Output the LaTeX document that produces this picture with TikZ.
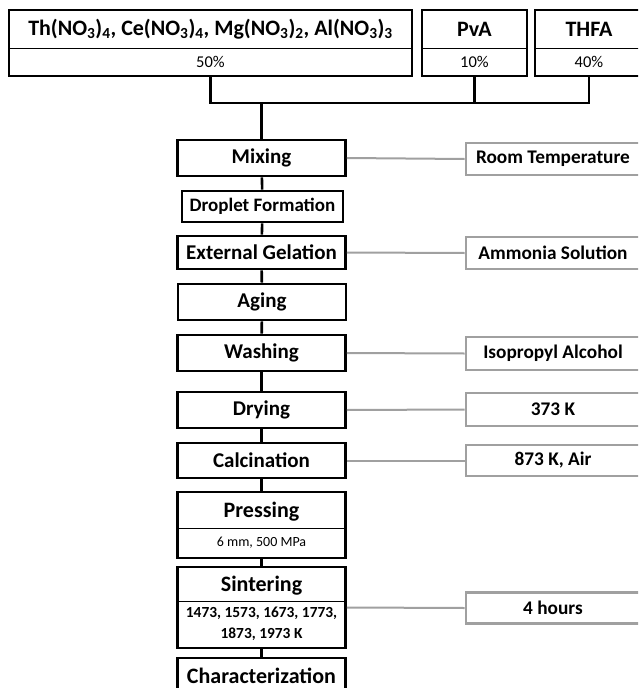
\documentclass[tikz,border=0pt]{standalone}
\usepackage{fontspec}
\setmainfont{Carlito}
\usepackage{tikz}
\definecolor{linegray}{RGB}{160,160,160}
\tikzset{>=latex}
\tikzset{
  stepbox/.style={draw=black, line width=2.6, minimum width=168, minimum height=36, inner sep=0, font=\bfseries\fontsize{21}{23}\selectfont},
  condbox/.style={draw=linegray, line width=2.6, minimum width=174, minimum height=32, inner sep=0, font=\bfseries\fontsize{19.3}{21}\selectfont},
  headtext/.style={inner sep=0, font=\bfseries\fontsize{22}{24}\selectfont},
  subtext/.style={inner sep=0, font=\fontsize{16.5}{18}\selectfont},
  flow/.style={draw=black, line width=2.6},
  side/.style={draw=linegray, line width=2},
  divider/.style={draw=black, line width=0.8}
}

\begin{document}
\begin{tikzpicture}[x=1pt, y=-1pt]

\useasboundingbox (0,0) rectangle (638,688);
\clip (0,0) rectangle (638,688);

% starting materials
\node[stepbox, minimum width=403, minimum height=66] (salts) at (210.5,43) {};
\node[headtext] (saltsname) at (210.5,29) {Th(NO\textsubscript{3})\textsubscript{4}, Ce(NO\textsubscript{3})\textsubscript{4}, Mg(NO\textsubscript{3})\textsubscript{2}, Al(NO\textsubscript{3})\textsubscript{3}};
\node[subtext] (saltsshare) at (210.5,62) {50\%};
\draw[divider] (9,48) -- (412,48);

\node[stepbox, minimum width=105, minimum height=66] (pva) at (474.5,43) {};
\node[headtext] (pvaname) at (474.5,29) {PvA};
\node[subtext] (pvashare) at (474.5,62) {10\%};
\draw[divider] (422,48) -- (527,48);

\node[stepbox, minimum width=108, minimum height=66] (thfa) at (589,43) {};
\node[headtext] (thfaname) at (589,29) {THFA};
\node[subtext] (thfashare) at (589,62) {40\%};
\draw[divider] (535,48) -- (643,48);

\coordinate (join) at (261.5,103);

% process steps
\node[stepbox] (mixing) at (261.5,158) {Mixing};
\node[stepbox, minimum width=161, minimum height=31, font=\bfseries\fontsize{19}{21}\selectfont] (droplet) at (262.5,206.5) {Droplet Formation};
\node[stepbox, minimum height=33] (gelation) at (261.5,252.5) {External Gelation};
\node[stepbox] (aging) at (262,302) {Aging};
\node[stepbox] (washing) at (261.5,353) {Washing};
\node[stepbox] (drying) at (261.5,410) {Drying};
\node[stepbox, minimum height=35] (calcination) at (261.5,460.5) {Calcination};

\node[stepbox, minimum height=66] (pressing) at (261.5,525) {};
\node[headtext] (pressingname) at (261.5,512) {Pressing};
\node[subtext, font=\fontsize{14}{16}\selectfont] (pressingcond) at (261.5,543) {6 mm, 500 MPa};
\draw[divider] (177.5,528) -- (345.5,528);

\node[stepbox, minimum height=81] (sintering) at (261.5,607.5) {};
\node[headtext] (sinteringname) at (261.5,586) {Sintering};
\node[subtext, font=\bfseries\fontsize{15.4}{21}\selectfont, align=center] (sinteringcond) at (261.5,624) {1473, 1573, 1673, 1773,\\1873, 1973 K};
\draw[divider] (177.5,601) -- (345.5,601);

\node[stepbox, minimum height=36, font=\bfseries\fontsize{22}{24}\selectfont] (characterization) at (261.5,676) {Characterization};

% conditions
\node[condbox] (roomtemp) at (553,159) {Room Temperature};
\node[condbox] (ammonia) at (553,253) {Ammonia Solution};
\node[condbox, minimum height=33] (alcohol) at (553,353.5) {Isopropyl Alcohol};
\node[condbox, minimum height=33] (dryingtemp) at (553,409.5) {373 K};
\node[condbox, minimum height=31] (calctemp) at (553,460.5) {873 K, Air};
\node[condbox, minimum height=31] (hours) at (553,608) {4 hours};

% connectors
\draw[flow] (salts.south) -- (salts.south |- join) -- (thfa.south |- join) -- (thfa.south);
\draw[flow] (pva.south) -- (pva.south |- join);
\draw[flow] (join) -- (mixing.north);
\draw[flow] (mixing) -- (droplet);
\draw[flow] (droplet) -- (gelation);
\draw[flow] (gelation) -- (aging);
\draw[flow] (aging) -- (washing);
\draw[flow] (washing) -- (drying);
\draw[flow] (drying) -- (calcination);
\draw[flow] (calcination) -- (pressing);
\draw[flow] (pressing) -- (sintering);
\draw[flow] (sintering) -- (characterization);

\draw[side] (mixing.east) -- (roomtemp.west);
\draw[side] (gelation.east) -- (ammonia.west);
\draw[side] (washing.east) -- (alcohol.west);
\draw[side] (drying.east) -- (dryingtemp.west);
\draw[side] (calcination.east) -- (calctemp.west);
\draw[side] (sintering.east) -- (hours.west);

\end{tikzpicture}
\end{document}
